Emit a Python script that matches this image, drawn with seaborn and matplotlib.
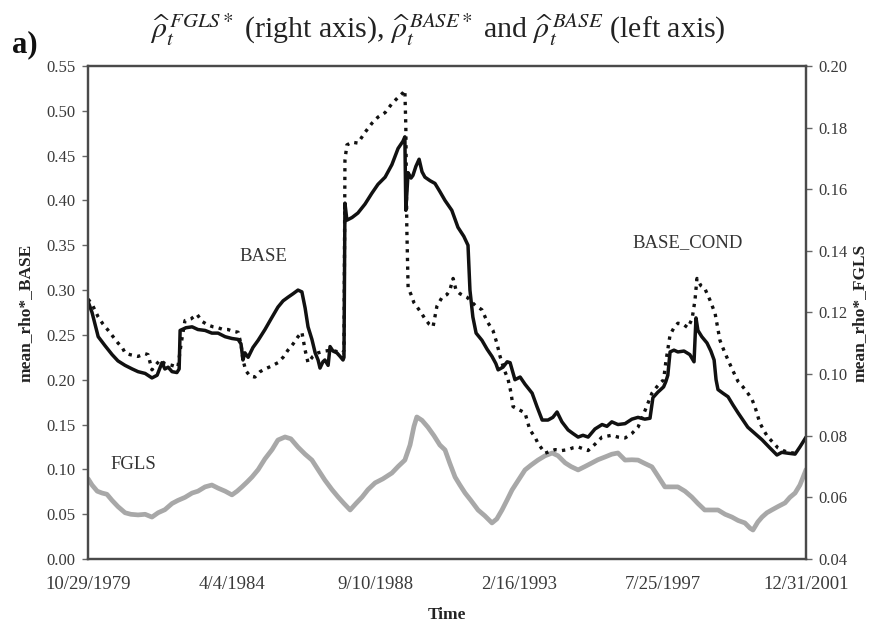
import numpy as np
import pandas as pd
import matplotlib
matplotlib.use("Agg")
import matplotlib.pyplot as plt
import seaborn as sns

# ---------------- data ----------------
base_t = [1979.83, 1979.95, 1980.14, 1980.35, 1980.57, 1980.75, 1980.97, 1981.19, 1981.37, 1981.59,
          1981.80, 1981.96, 1982.11, 1982.20, 1982.30, 1982.42, 1982.57, 1982.64, 1982.67, 1982.85,
          1983.04, 1983.22, 1983.44, 1983.65, 1983.84, 1984.06, 1984.27, 1984.46, 1984.55, 1984.61,
          1984.67, 1984.77, 1984.92, 1985.08, 1985.29, 1985.48, 1985.69, 1985.85, 1986.00, 1986.16,
          1986.31, 1986.43, 1986.53, 1986.62, 1986.74, 1986.84, 1986.93, 1986.99, 1987.08, 1987.14,
          1987.24, 1987.30, 1987.39, 1987.51, 1987.61, 1987.70, 1987.73, 1987.76, 1987.82, 1987.98,
          1988.16, 1988.38, 1988.59, 1988.78, 1989.00, 1989.21, 1989.40, 1989.55, 1989.61, 1989.64,
          1989.71, 1989.80, 1989.86, 1989.95, 1990.05, 1990.14, 1990.23, 1990.39, 1990.54, 1990.69,
          1990.85, 1991.06, 1991.25, 1991.43, 1991.56, 1991.62, 1991.71, 1991.81, 1991.99, 1992.15,
          1992.30, 1992.42, 1992.49, 1992.64, 1992.77, 1992.86, 1993.01, 1993.17, 1993.32, 1993.54,
          1993.69, 1993.85, 1994.03, 1994.18, 1994.31, 1994.46, 1994.65, 1994.80, 1994.96, 1995.11,
          1995.27, 1995.48, 1995.70, 1995.85, 1996.00, 1996.19, 1996.41, 1996.62, 1996.81, 1997.02,
          1997.18, 1997.27, 1997.42, 1997.60, 1997.67, 1997.73, 1997.80, 1997.92, 1998.04, 1998.23,
          1998.41, 1998.54, 1998.60, 1998.66, 1998.78, 1998.94, 1999.06, 1999.16, 1999.22, 1999.28,
          1999.43, 1999.59, 1999.74, 1999.90, 2000.05, 2000.20, 2000.42, 2000.64, 2000.88, 2001.10,
          2001.25, 2001.44, 2001.66, 2001.81, 2002.00]
base_v = [0.287, 0.275, 0.248, 0.238, 0.228, 0.221, 0.216, 0.212, 0.209, 0.207,
          0.202, 0.205, 0.219, 0.212, 0.214, 0.209, 0.208, 0.212, 0.255, 0.258,
          0.259, 0.256, 0.255, 0.252, 0.252, 0.248, 0.246, 0.245, 0.240, 0.222,
          0.230, 0.225, 0.236, 0.244, 0.256, 0.268, 0.281, 0.288, 0.292, 0.296,
          0.300, 0.298, 0.280, 0.259, 0.245, 0.230, 0.222, 0.213, 0.220, 0.222,
          0.216, 0.237, 0.232, 0.230, 0.226, 0.222, 0.225, 0.397, 0.378, 0.381,
          0.386, 0.396, 0.408, 0.418, 0.426, 0.440, 0.458, 0.466, 0.471, 0.389,
          0.431, 0.425, 0.428, 0.438, 0.446, 0.432, 0.426, 0.422, 0.419, 0.410,
          0.400, 0.389, 0.370, 0.360, 0.350, 0.300, 0.270, 0.252, 0.244, 0.234,
          0.226, 0.218, 0.211, 0.214, 0.220, 0.219, 0.200, 0.203, 0.195, 0.185,
          0.170, 0.155, 0.155, 0.158, 0.164, 0.153, 0.144, 0.140, 0.136, 0.138,
          0.136, 0.145, 0.150, 0.148, 0.153, 0.150, 0.151, 0.156, 0.158, 0.156,
          0.157, 0.180, 0.186, 0.192, 0.198, 0.205, 0.231, 0.233, 0.231, 0.232,
          0.228, 0.220, 0.269, 0.255, 0.248, 0.241, 0.232, 0.222, 0.200, 0.189,
          0.185, 0.181, 0.172, 0.163, 0.155, 0.147, 0.140, 0.133, 0.124, 0.116,
          0.119, 0.118, 0.117, 0.125, 0.136]

cond_t = [1979.83, 1979.98, 1980.14, 1980.29, 1980.45, 1980.60, 1980.75, 1980.88, 1980.97, 1981.12,
          1981.37, 1981.59, 1981.68, 1981.80, 1981.93, 1982.05, 1982.20, 1982.42, 1982.60, 1982.70,
          1982.82, 1983.01, 1983.19, 1983.35, 1983.53, 1983.69, 1983.84, 1984.00, 1984.15, 1984.30,
          1984.46, 1984.55, 1984.61, 1984.70, 1984.83, 1984.98, 1985.14, 1985.29, 1985.48, 1985.69,
          1985.85, 1986.00, 1986.16, 1986.31, 1986.43, 1986.53, 1986.62, 1986.77, 1986.93, 1987.14,
          1987.36, 1987.55, 1987.70, 1987.73, 1987.76, 1987.82, 1987.98, 1988.16, 1988.38, 1988.59,
          1988.78, 1989.00, 1989.21, 1989.40, 1989.55, 1989.61, 1989.64, 1989.67, 1989.71, 1989.80,
          1989.89, 1989.99, 1990.11, 1990.23, 1990.36, 1990.48, 1990.60, 1990.76, 1990.91, 1991.00,
          1991.10, 1991.19, 1991.31, 1991.53, 1991.78, 1991.99, 1992.15, 1992.33, 1992.45, 1992.55,
          1992.67, 1992.80, 1992.89, 1992.95, 1993.11, 1993.32, 1993.47, 1993.63, 1993.72, 1993.94,
          1994.09, 1994.25, 1994.46, 1994.65, 1994.80, 1994.96, 1995.11, 1995.27, 1995.48, 1995.70,
          1995.85, 1996.00, 1996.19, 1996.41, 1996.62, 1996.81, 1997.02, 1997.24, 1997.39, 1997.60,
          1997.67, 1997.80, 1997.92, 1998.04, 1998.20, 1998.35, 1998.48, 1998.57, 1998.63, 1998.75,
          1998.87, 1999.03, 1999.19, 1999.34, 1999.47, 1999.59, 1999.74, 1999.90, 2000.05, 2000.20,
          2000.33, 2000.42, 2000.57, 2000.70, 2000.82, 2000.98, 2001.13, 2001.29, 2001.44, 2001.66]
cond_v = [0.290, 0.282, 0.270, 0.262, 0.255, 0.248, 0.241, 0.236, 0.230, 0.228,
          0.226, 0.229, 0.228, 0.211, 0.217, 0.222, 0.218, 0.216, 0.214, 0.240,
          0.266, 0.268, 0.273, 0.265, 0.261, 0.259, 0.258, 0.256, 0.256, 0.254,
          0.253, 0.240, 0.222, 0.210, 0.204, 0.203, 0.209, 0.212, 0.215, 0.219,
          0.225, 0.233, 0.240, 0.248, 0.253, 0.233, 0.219, 0.226, 0.230, 0.232,
          0.233, 0.231, 0.230, 0.233, 0.445, 0.462, 0.465, 0.464, 0.476, 0.486,
          0.493, 0.498, 0.508, 0.515, 0.520, 0.523, 0.482, 0.370, 0.303, 0.295,
          0.286, 0.281, 0.275, 0.268, 0.262, 0.259, 0.282, 0.292, 0.295, 0.300,
          0.313, 0.300, 0.296, 0.292, 0.283, 0.278, 0.265, 0.255, 0.241, 0.226,
          0.212, 0.200, 0.185, 0.170, 0.167, 0.163, 0.144, 0.136, 0.129, 0.118,
          0.120, 0.122, 0.121, 0.122, 0.124, 0.125, 0.123, 0.121, 0.128, 0.136,
          0.137, 0.138, 0.136, 0.135, 0.140, 0.147, 0.165, 0.185, 0.192, 0.200,
          0.220, 0.250, 0.258, 0.263, 0.262, 0.258, 0.268, 0.289, 0.313, 0.305,
          0.302, 0.289, 0.274, 0.244, 0.232, 0.222, 0.210, 0.198, 0.192, 0.185,
          0.178, 0.170, 0.152, 0.143, 0.136, 0.130, 0.124, 0.121, 0.119, 0.118]

fgls_t = [1979.83, 1979.95, 1980.11, 1980.26, 1980.41, 1980.57, 1980.75, 1980.97, 1981.15, 1981.37,
          1981.59, 1981.80, 1981.99, 1982.20, 1982.42, 1982.60, 1982.82, 1983.04, 1983.22, 1983.44,
          1983.65, 1983.84, 1984.06, 1984.27, 1984.43, 1984.58, 1984.74, 1984.89, 1985.08, 1985.29,
          1985.51, 1985.69, 1985.91, 1986.09, 1986.31, 1986.53, 1986.74, 1986.93, 1987.14, 1987.36,
          1987.55, 1987.73, 1987.92, 1988.10, 1988.29, 1988.47, 1988.69, 1988.93, 1989.21, 1989.40,
          1989.61, 1989.77, 1989.89, 1989.98, 1990.14, 1990.32, 1990.51, 1990.69, 1990.85, 1991.00,
          1991.16, 1991.31, 1991.47, 1991.65, 1991.87, 1992.08, 1992.30, 1992.45, 1992.61, 1992.76,
          1992.92, 1993.11, 1993.32, 1993.51, 1993.72, 1993.94, 1994.16, 1994.34, 1994.56, 1994.74,
          1994.96, 1995.17, 1995.39, 1995.57, 1995.79, 1996.00, 1996.19, 1996.41, 1996.62, 1996.81,
          1997.02, 1997.24, 1997.42, 1997.64, 1997.86, 1998.04, 1998.26, 1998.47, 1998.66, 1998.87,
          1999.09, 1999.28, 1999.50, 1999.71, 1999.90, 2000.11, 2000.27, 2000.36, 2000.51, 2000.64,
          2000.79, 2000.94, 2001.13, 2001.35, 2001.50, 2001.66, 2001.81, 2001.91, 2002.00]
fgls_v = [0.0660, 0.0640, 0.0620, 0.0614, 0.0610, 0.0590, 0.0570, 0.0550, 0.0545, 0.0543,
          0.0545, 0.0536, 0.0550, 0.0560, 0.0580, 0.0590, 0.0600, 0.0614, 0.0620, 0.0634,
          0.0640, 0.0630, 0.0620, 0.0608, 0.0620, 0.0634, 0.0650, 0.0666, 0.0690, 0.0725,
          0.0755, 0.0786, 0.0796, 0.0790, 0.0763, 0.0740, 0.0721, 0.0690, 0.0656, 0.0625,
          0.0601, 0.0580, 0.0559, 0.0580, 0.0601, 0.0625, 0.0647, 0.0660, 0.0679, 0.0700,
          0.0721, 0.0770, 0.0830, 0.0861, 0.0850, 0.0828, 0.0800, 0.0770, 0.0754, 0.0710,
          0.0666, 0.0640, 0.0614, 0.0590, 0.0559, 0.0540, 0.0517, 0.0530, 0.0559, 0.0590,
          0.0624, 0.0655, 0.0689, 0.0705, 0.0721, 0.0735, 0.0744, 0.0735, 0.0712, 0.0700,
          0.0689, 0.0700, 0.0712, 0.0722, 0.0731, 0.0740, 0.0744, 0.0721, 0.0722, 0.0721,
          0.0710, 0.0699, 0.0670, 0.0634, 0.0634, 0.0634, 0.0620, 0.0601, 0.0580, 0.0559,
          0.0559, 0.0559, 0.0545, 0.0536, 0.0525, 0.0517, 0.0500, 0.0494, 0.0520, 0.0536,
          0.0550, 0.0559, 0.0570, 0.0582, 0.0600, 0.0614, 0.0640, 0.0666, 0.0690]

tick_labels = ["10/29/1979", "4/4/1984", "9/10/1988", "2/16/1993", "7/25/1997", "12/31/2001"]

# ---------------- style ----------------
sns.set_style("white")
plt.rcParams["font.family"] = ["Liberation Serif", "DejaVu Serif"]
plt.rcParams["mathtext.fontset"] = "stix"

fig = plt.figure(figsize=(8.72, 6.27), dpi=100)
ax = fig.add_axes([0.1009, 0.1085, 0.8234, 0.7862])
ax2 = ax.twinx()

df_base = pd.DataFrame({"t": base_t, "v": base_v})
df_cond = pd.DataFrame({"t": cond_t, "v": cond_v})
df_fgls = pd.DataFrame({"t": fgls_t, "v": fgls_v})

sns.lineplot(data=df_fgls, x="t", y="v", ax=ax2, color="#a8a8a8", lw=3.4, estimator=None, sort=False)
sns.lineplot(data=df_cond, x="t", y="v", ax=ax, color="#111111", lw=2.4, estimator=None, sort=False,
             linestyle=(0, (1, 1.6)))
sns.lineplot(data=df_base, x="t", y="v", ax=ax, color="#111111", lw=2.5, estimator=None, sort=False)

ax.set_zorder(ax2.get_zorder() + 1)
ax.patch.set_visible(False)


def dec_year(s):
    d = pd.to_datetime(s, format="%m/%d/%Y")
    start = pd.Timestamp(year=d.year, month=1, day=1)
    length = (pd.Timestamp(year=d.year + 1, month=1, day=1) - start).days
    return d.year + (d - start).days / length


tick_pos = [dec_year(s) for s in tick_labels]
ax.set_xlim(tick_pos[0], tick_pos[-1])
ax.set_xticks(tick_pos)
ax.set_xticklabels(tick_labels)

ax.set_ylim(0, 0.55)
ax.set_yticks(np.arange(0, 0.551, 0.05))
ax.set_yticklabels([f"{v:.2f}" for v in np.arange(0, 0.551, 0.05)])
ax2.set_ylim(0.04, 0.20)
ax2.set_yticks(np.arange(0.04, 0.201, 0.02))
ax2.set_yticklabels([f"{v:.2f}" for v in np.arange(0.04, 0.201, 0.02)])

tick_color = "#3a3a3a"
ax.tick_params(axis="y", direction="out", length=4, width=1, colors="#666666", labelcolor=tick_color,
               labelsize=12, pad=5)
ax.tick_params(axis="x", direction="in", length=3, width=1, colors="#999999", labelcolor=tick_color,
               labelsize=13.5, pad=12)
ax2.tick_params(axis="y", direction="out", length=4, width=1, colors="#666666", labelcolor=tick_color,
                labelsize=12, pad=5)

for a in (ax, ax2):
    for sp in a.spines.values():
        sp.set_color("#4a4a4a")
        sp.set_linewidth(1.6)

ax.set_xlabel("Time", fontsize=12.5, fontweight="bold", color="#222222", labelpad=10)
ax.set_ylabel("mean_rho*_BASE", fontsize=12.5, fontweight="bold", color="#222222", labelpad=9)
ax2.set_ylabel("mean_rho*_FGLS", fontsize=12.5, fontweight="bold", color="#222222", labelpad=3)

ax.text(1985.23, 0.337, "BASE", fontsize=13.5, color="#333333", ha="center", va="center")
ax.text(1981.22, 0.105, "FGLS", fontsize=13.5, color="#333333", ha="center", va="center")
ax.text(1998.35, 0.3525, "BASE_COND", fontsize=13.5, color="#333333", ha="center", va="center")

fig.text(0.502, 0.952,
         r"$\widehat{\rho}_t^{\,FGLS*}$ (right axis), $\widehat{\rho}_t^{\,BASE*}$ and $\widehat{\rho}_t^{\,BASE}$ (left axis)",
         fontsize=21.5, ha="center", va="center", color="#222222")
fig.text(0.014, 0.928, "a)", fontsize=22, fontweight="bold", ha="left", va="center", color="#111111")

fig.savefig("out.png", dpi=100)
